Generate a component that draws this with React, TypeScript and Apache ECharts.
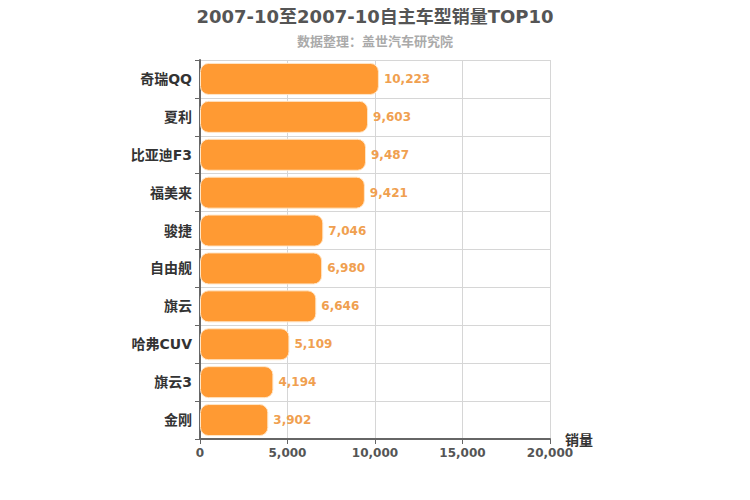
import React, { useEffect, useRef } from "react";
import * as echarts from "echarts";

const categories = ["奇瑞QQ", "夏利", "比亚迪F3", "福美来", "骏捷", "自由舰", "旗云", "哈弗CUV", "旗云3", "金刚"];
const sales = [10223, 9603, 9487, 9421, 7046, 6980, 6646, 5109, 4194, 3902];

const titleText = "2007-10至2007-10自主车型销量TOP10";
const subText = "数据整理：盖世汽车研究院";

export default function App() {
  const ref = useRef<HTMLDivElement>(null);
  useEffect(() => {
    const chart = echarts.init(ref.current!, null, { renderer: "svg" });
    const font = "'DejaVu Sans', 'Noto Sans CJK SC', sans-serif";
    chart.setOption({
      animation: false,
      textStyle: { fontFamily: font },
      title: {
        text: titleText,
        subtext: subText,
        left: "center",
        top: 2,
        itemGap: 10,
        textStyle: { fontSize: 18, fontWeight: "bold", color: "#555", fontFamily: font },
        subtextStyle: { fontSize: 13, fontWeight: "bold", color: "#aaa", fontFamily: font },
      },
      grid: { left: 200, right: 200, top: 60, bottom: 61, containLabel: false },
      xAxis: {
        type: "value",
        min: 0,
        max: 20000,
        interval: 5000,
        name: "销量",
        nameLocation: "end",
        nameGap: 15,
        nameTextStyle: { fontSize: 14, fontWeight: "bold", color: "#333", verticalAlign: "top", padding: [-6, 0, 0, 0] },
        axisLine: { show: true, lineStyle: { color: "#666", width: 2 } },
        axisTick: { show: true, lineStyle: { color: "#666" } },
        axisLabel: {
          color: "#555",
          fontSize: 12,
          fontWeight: "bold",
          formatter: (v: number) => v.toLocaleString("en-US"),
        },
        splitLine: { show: true, lineStyle: { color: "#d6d6d6" } },
      },
      yAxis: {
        type: "category",
        data: categories,
        inverse: true,
        axisLine: { show: true, lineStyle: { color: "#666", width: 2 } },
        axisTick: { show: true, lineStyle: { color: "#666" } },
        axisLabel: { color: "#333", fontSize: 14, fontWeight: "bold", margin: 8 },
        splitLine: { show: true, lineStyle: { color: "#d6d6d6" } },
      },
      series: [
        {
          type: "bar",
          data: sales,
          barWidth: 32,
          itemStyle: {
            color: "#ff9a33",
            borderColor: "#ffe6c8",
            borderWidth: 1,
            borderRadius: 8,
          },
          label: {
            show: true,
            position: "right",
            distance: 5,
            color: "#f0a050",
            fontSize: 12,
            fontWeight: "bold",
            formatter: (p: any) => Number(p.value).toLocaleString("en-US"),
          },
        },
      ],
    });
    return () => chart.dispose();
  }, []);
  return <div ref={ref} style={{ width: 750, height: 500, margin: -8 }} />;
}
